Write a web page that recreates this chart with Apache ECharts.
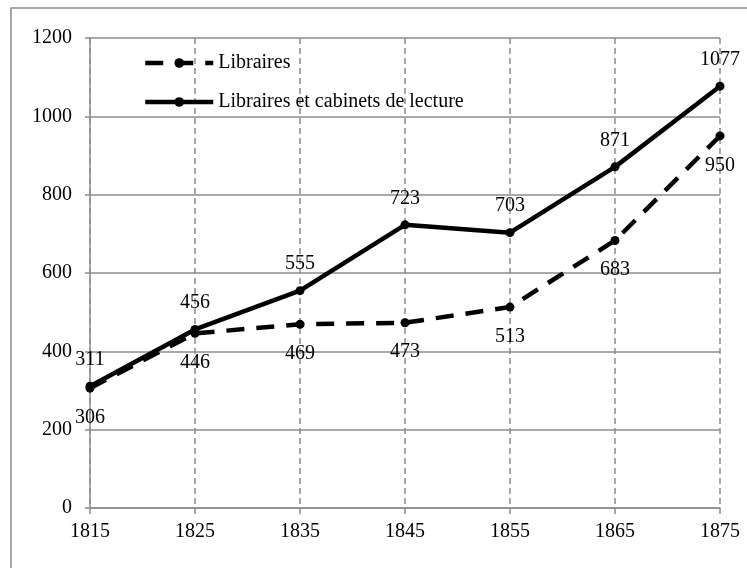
<!DOCTYPE html>
<html>
<head>
<meta charset="utf-8">
<script src="https://cdn.jsdelivr.net/npm/echarts@6/dist/echarts.min.js"></script>
<style>
  html, body { margin: 0; padding: 0; background: #fff; }
  #chartDiv { width: 747px; height: 568px; }
</style>
</head>
<body>
<div id="chartDiv"></div>
<script>
var years = ["1815", "1825", "1835", "1845", "1855", "1865", "1875"];
var libraires = [306, 446, 469, 473, 513, 683, 950];
var librairesCabinets = [311, 456, 555, 723, 703, 871, 1077];
var yTicks = { min: 0, max: 1200, interval: 200 };

var font = "'Liberation Serif', 'Times New Roman', serif";
var fontSize = 20;
var gridGray = "#8c8c8c";

var myChart = echarts.init(document.getElementById("chartDiv"));

var option = {
  backgroundColor: "#fff",
  animation: false,
  textStyle: { fontFamily: font },
  graphic: [{
    type: "rect",
    shape: { x: 11, y: 8, width: 800, height: 600 },
    style: { fill: "none", stroke: gridGray, lineWidth: 1.5 },
    silent: true
  }],
  grid: { left: 90, right: 27, top: 38, bottom: 60 },
  legend: {
    orient: "vertical",
    left: 138,
    top: 48,
    itemWidth: 68,
    itemHeight: 12,
    itemGap: 19,
    lineStyle: { width: 4.5 },
    textStyle: { fontFamily: font, fontSize: fontSize, color: "#000" },
    data: ["Libraires", "Libraires et cabinets de lecture"]
  },
  xAxis: {
    type: "category",
    data: years,
    boundaryGap: false,
    axisLine: { lineStyle: { color: gridGray, width: 1.5 } },
    axisTick: { show: true, length: 6, alignWithLabel: true, lineStyle: { color: gridGray, width: 1.5 } },
    axisLabel: { color: "#000", fontFamily: font, fontSize: fontSize, margin: 14 },
    splitLine: { show: true, lineStyle: { color: gridGray, width: 1.5, type: [6, 4] } }
  },
  yAxis: {
    type: "value",
    min: yTicks.min,
    max: yTicks.max,
    interval: yTicks.interval,
    axisLine: { show: true, lineStyle: { color: gridGray, width: 1.5 } },
    axisTick: { show: true, length: 5, lineStyle: { color: gridGray, width: 1.5 } },
    axisLabel: {
      color: "#000", fontFamily: font, fontSize: fontSize, margin: 18,
      formatter: function (v) { return String(v); }
    },
    splitLine: { show: true, lineStyle: { color: gridGray, width: 1.5 } }
  },
  series: [
    {
      name: "Libraires",
      type: "line",
      data: libraires,
      symbol: "circle",
      symbolSize: 9,
      itemStyle: { color: "#000" },
      lineStyle: { color: "#000", width: 4.5, type: [18, 12] },
      label: {
        show: true, position: "bottom", distance: 15,
        color: "#000", fontFamily: font, fontSize: fontSize
      },
      z: 3
    },
    {
      name: "Libraires et cabinets de lecture",
      type: "line",
      data: librairesCabinets,
      symbol: "circle",
      symbolSize: 9,
      itemStyle: { color: "#000" },
      lineStyle: { color: "#000", width: 4.5 },
      label: {
        show: true, position: "top", distance: 12,
        color: "#000", fontFamily: font, fontSize: fontSize
      },
      z: 4
    }
  ]
};

myChart.setOption(option);
</script>
</body>
</html>
